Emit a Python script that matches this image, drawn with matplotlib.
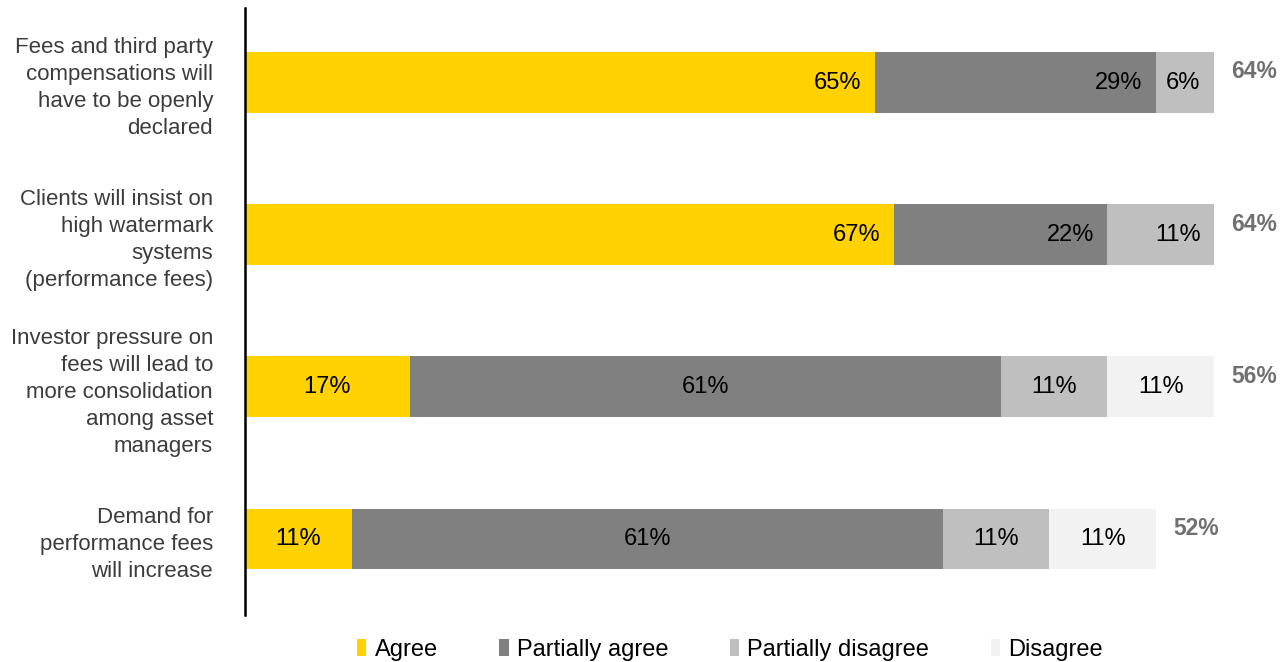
import matplotlib
matplotlib.use("Agg")
import matplotlib.pyplot as plt
from matplotlib.patches import Patch

plt.rcParams['font.family'] = ['Liberation Sans', 'DejaVu Sans']

categories = [
    "Fees and third party\ncompensations will\nhave to be openly\ndeclared",
    "Clients will insist on\nhigh watermark\nsystems\n(performance fees)",
    "Investor pressure on\nfees will lead to\nmore consolidation\namong asset\nmanagers",
    "Demand for\nperformance fees\nwill increase",
]
series_names = ["Agree", "Partially agree", "Partially disagree", "Disagree"]
agree = [65, 67, 17, 11]
partially_agree = [29, 22, 61, 61]
partially_disagree = [6, 11, 11, 11]
disagree = [0, 0, 11, 11]
totals = [64, 64, 56, 52]

colors = ["#FFD200", "#808080", "#BFBFBF", "#F2F2F2"]
label_mode = ["end", "end", "center", "center"]

W, H = 1282, 662
fig = plt.figure(figsize=(W / 100, H / 100), dpi=100)
ax = fig.add_axes([245 / W, 47 / H, 1017.5 / W, 607 / H])

ypos = [3, 2, 1, 0]
series = [agree, partially_agree, partially_disagree, disagree]
lefts = [0, 0, 0, 0]
for s, col in zip(series, colors):
    ax.barh(ypos, s, left=lefts, height=0.40, color=col, edgecolor='none')
    for i, v in enumerate(s):
        if v > 0:
            if label_mode[i] == "end":
                ax.text(lefts[i] + v - 1.4, ypos[i], f"{v}%", ha='right', va='center',
                        fontsize=17, color='black')
            else:
                ax.text(lefts[i] + v / 2, ypos[i], f"{v}%", ha='center', va='center',
                        fontsize=17, color='black')
    lefts = [l + v for l, v in zip(lefts, s)]

for i, t in enumerate(totals):
    ax.text(lefts[i] + 1.8, ypos[i] + 0.07, f"{t}%", ha='left', va='center',
            fontsize=16.5, fontweight='bold', color='#707070', clip_on=False)

ax.set_xlim(0, 105)
ax.set_ylim(-0.5, 3.49)
ax.set_yticks(ypos)
ax.set_yticklabels(categories, fontsize=16, color='#3C3C3C')
for t in ax.get_yticklabels():
    t.set_linespacing(1.38)
ax.tick_params(axis='y', length=0, pad=23)
ax.set_xticks([])
for sp in ['top', 'right', 'bottom']:
    ax.spines[sp].set_visible(False)
ax.spines['left'].set_linewidth(1.8)
ax.spines['left'].set_color('black')

handles = [Patch(facecolor=c, edgecolor='none') for c in colors]
fig.legend(handles, series_names, loc='center', bbox_to_anchor=(730 / W, 12 / H),
           ncol=4, frameon=False, fontsize=17, handlelength=0.4, handleheight=0.7,
           handletextpad=0.35, columnspacing=2.6, borderaxespad=0, borderpad=0)

fig.savefig("out.png", dpi=100)
